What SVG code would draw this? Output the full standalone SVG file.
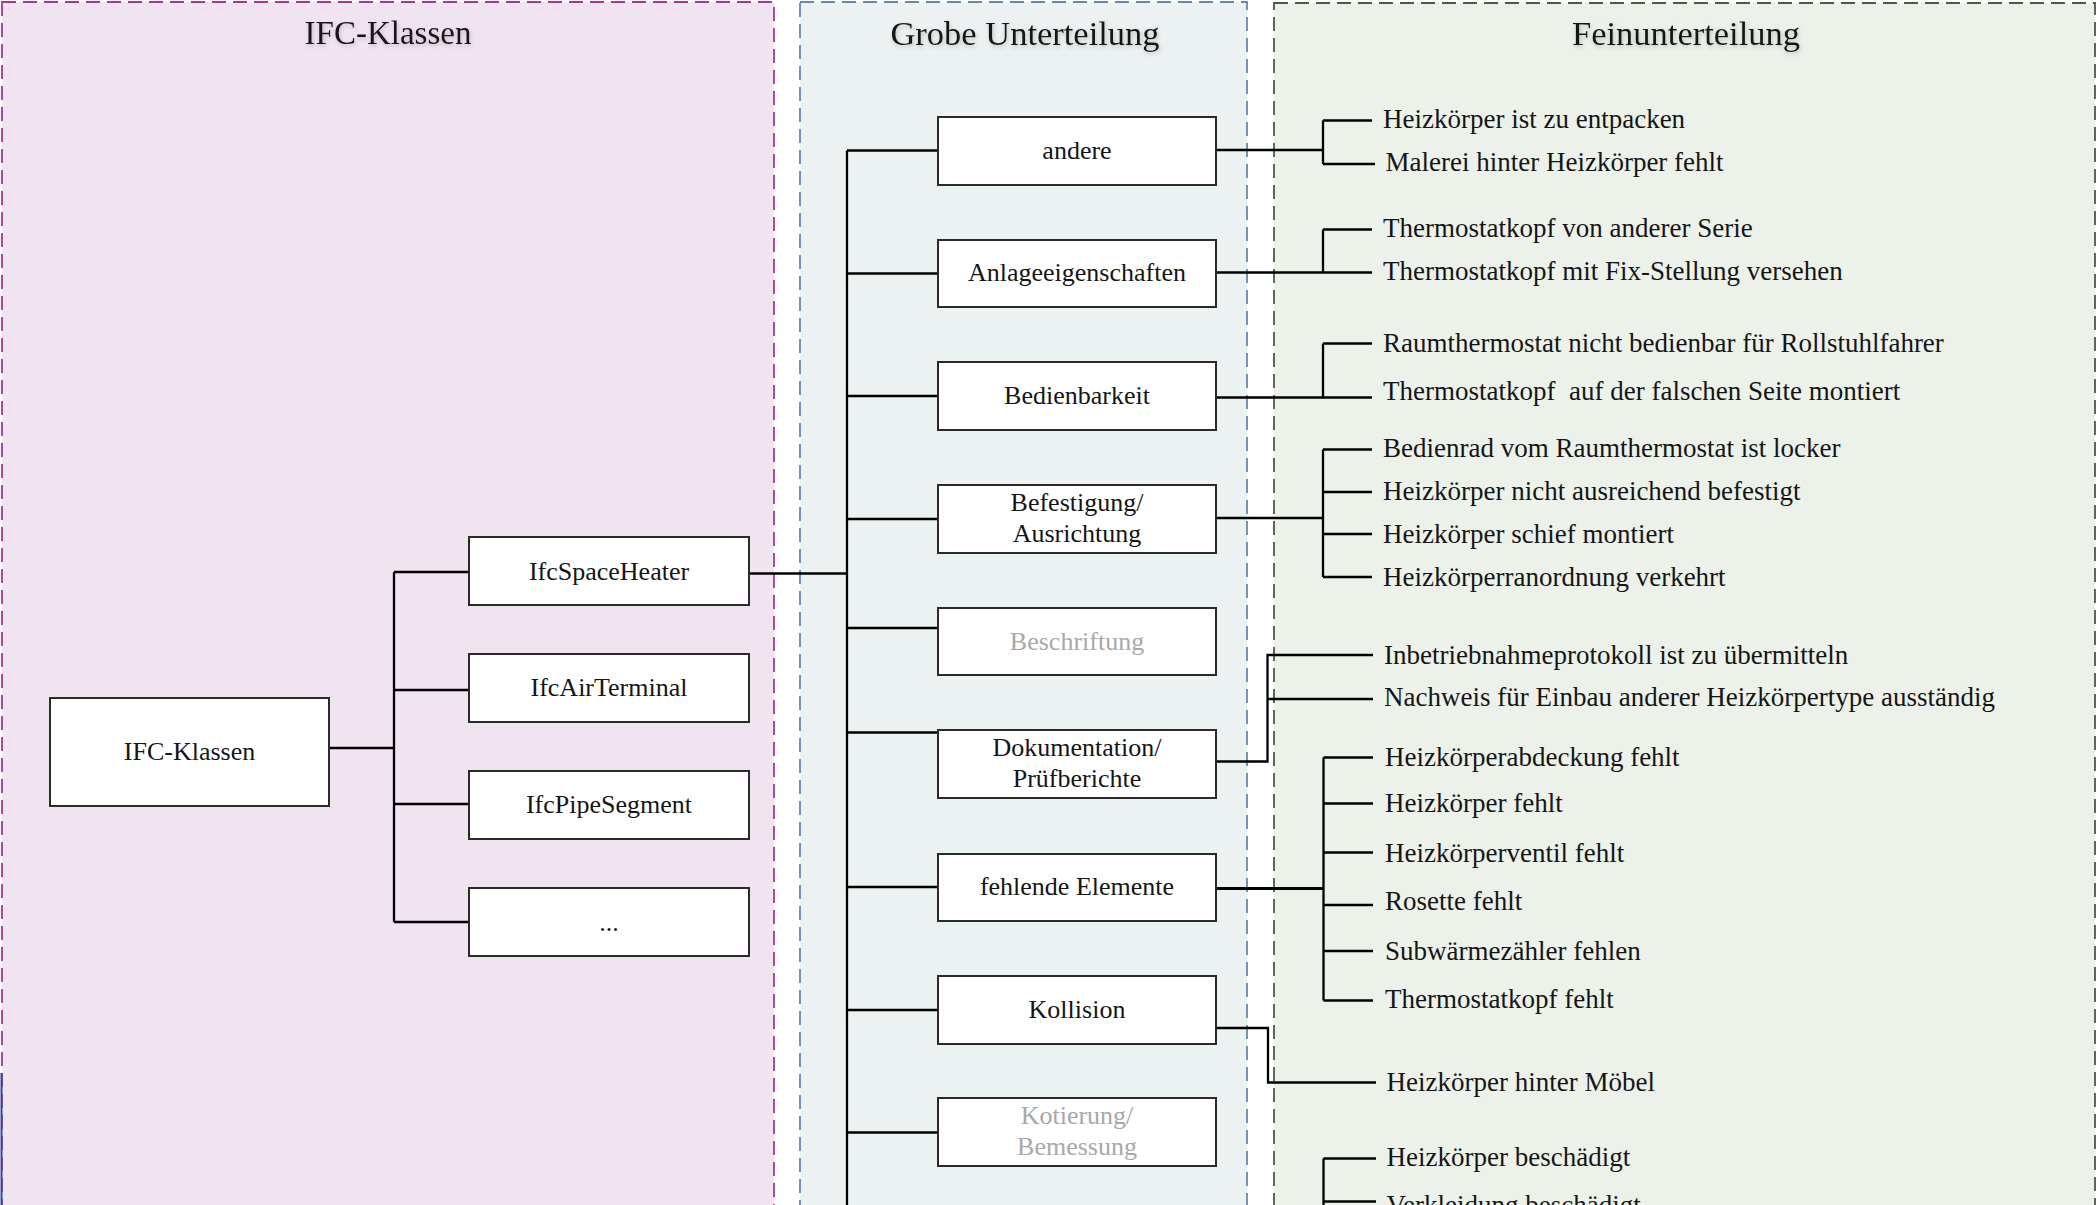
<svg xmlns="http://www.w3.org/2000/svg" width="2098" height="1205" viewBox="0 0 2098 1205">
  <defs>
    <filter id="shadow" x="-10%" y="-30%" width="120%" height="170%">
      <feDropShadow dx="1" dy="2" stdDeviation="2" flood-color="#7a7a7a" flood-opacity="0.45"/>
    </filter>
    <style>
      .title { font-family: "Liberation Serif", "DejaVu Serif", serif; font-size: 33px; fill: #151515; text-anchor: middle; }
      .title-l { font-size: 34.5px; }
      .box { fill: #ffffff; stroke: #2a2a2a; stroke-width: 2; }
      .lbl { font-family: "Liberation Serif", "DejaVu Serif", serif; font-size: 26px; fill: #151515; text-anchor: middle; }
      .dim { fill: #a8a8a8; }
      .item { font-family: "Liberation Serif", "DejaVu Serif", serif; font-size: 27px; fill: #151515; }
      .conn { fill: none; stroke: #000000; stroke-width: 2.3; }
      .pnl { stroke-width: 1.8; stroke-dasharray: 14 7; }
    </style>
  </defs>

  <rect width="2098" height="1205" fill="#ffffff"/>

  <!-- Panels -->
  <g id="panel-ifc">
    <rect class="pnl" x="2" y="2" width="772" height="1230" fill="#f1e4f1" stroke="#a8369a"/>
    <text class="title" x="388" y="44" filter="url(#shadow)">IFC-Klassen</text>
  </g>
  <g id="panel-grob">
    <rect class="pnl" x="800" y="2" width="447" height="1230" fill="#ecf1f1" stroke="#6688ad"/>
    <text class="title title-l" x="1025" y="45" filter="url(#shadow)">Grobe Unterteilung</text>
  </g>
  <g id="panel-fein">
    <rect class="pnl" x="1274" y="3" width="821" height="1230" fill="#ecf1ea" stroke="#4b5a44"/>
    <text class="title title-l" x="1686" y="45" filter="url(#shadow)">Feinunterteilung</text>
  </g>
  <line x1="1.5" y1="1073" x2="1.5" y2="1205" stroke="#2a4a9a" stroke-width="2"/>

  <!-- Connectors -->
  <g id="connectors">
    <!-- IFC tree -->
    <path class="conn" d="M329,748 H394 M394,572 V922 M394,572 H469 M394,690 H469 M394,804 H469 M394,922 H469"/>
    <!-- IfcSpaceHeater to coarse bus -->
    <path class="conn" d="M749,573.5 H847"/>
    <path class="conn" d="M847,150.5 V1205"/>
    <path class="conn" d="M847,150.5 H938 M847,273.5 H938 M847,396 H938 M847,519 H938 M847,628 H938 M847,732.5 H938 M847,887 H938 M847,1010 H938 M847,1132.5 H938"/>
    <!-- andere -->
    <path class="conn" d="M1216,150 H1323 M1323,120.5 V164 M1323,120.5 H1372 M1323,164 H1375"/>
    <!-- Anlageeigenschaften -->
    <path class="conn" d="M1216,272.5 H1372 M1323,229.5 V272.5 M1323,229.5 H1372"/>
    <!-- Bedienbarkeit -->
    <path class="conn" d="M1216,397.5 H1372 M1323,343.5 V397.5 M1323,343.5 H1372"/>
    <!-- Befestigung -->
    <path class="conn" d="M1216,518 H1323 M1323,449.5 V577 M1323,449.5 H1372 M1323,492 H1372 M1323,534 H1372 M1323,577 H1372"/>
    <!-- Dokumentation -->
    <path class="conn" d="M1216,761.5 H1267.5 V655 H1373 M1267.5,699 H1373"/>
    <!-- fehlende Elemente -->
    <path class="conn" d="M1216,888.5 H1323.5" style="stroke-width:3"/>
    <path class="conn" d="M1323.5,757.5 V1000.5 M1323.5,757.5 H1373 M1323.5,803.5 H1373 M1323.5,852.5 H1373 M1323.5,905 H1373 M1323.5,951 H1373 M1323.5,1000.5 H1373"/>
    <!-- Kollision -->
    <path class="conn" d="M1216,1028 H1268 V1082.5 H1376"/>
    <!-- bottom group -->
    <path class="conn" d="M1323.5,1158.5 V1205 M1323.5,1158.5 H1376 M1323.5,1201.5 H1376"/>
  </g>

  <!-- IFC class nodes -->
  <g id="node-ifc-klassen">
    <rect class="box" x="50" y="698" width="279" height="108"/>
    <text class="lbl" x="189.5" y="760">IFC-Klassen</text>
  </g>
  <g id="node-ifcspaceheater">
    <rect class="box" x="469" y="537" width="280" height="68"/>
    <text class="lbl" x="609" y="580">IfcSpaceHeater</text>
  </g>
  <g id="node-ifcairterminal">
    <rect class="box" x="469" y="654" width="280" height="68"/>
    <text class="lbl" x="609" y="696">IfcAirTerminal</text>
  </g>
  <g id="node-ifcpipesegment">
    <rect class="box" x="469" y="771" width="280" height="68"/>
    <text class="lbl" x="609" y="813">IfcPipeSegment</text>
  </g>
  <g id="node-more">
    <rect class="box" x="469" y="888" width="280" height="68"/>
    <text class="lbl" x="609" y="931">...</text>
  </g>

  <!-- Coarse categories -->
  <g id="node-andere">
    <rect class="box" x="938" y="117" width="278" height="68"/>
    <text class="lbl" x="1077" y="159">andere</text>
  </g>
  <g id="node-anlageeigenschaften">
    <rect class="box" x="938" y="240" width="278" height="67"/>
    <text class="lbl" x="1077" y="281">Anlageeigenschaften</text>
  </g>
  <g id="node-bedienbarkeit">
    <rect class="box" x="938" y="362" width="278" height="68"/>
    <text class="lbl" x="1077" y="404">Bedienbarkeit</text>
  </g>
  <g id="node-befestigung">
    <rect class="box" x="938" y="485" width="278" height="68"/>
    <text class="lbl" x="1077" y="511">Befestigung/</text>
    <text class="lbl" x="1077" y="542">Ausrichtung</text>
  </g>
  <g id="node-beschriftung">
    <rect class="box" x="938" y="608" width="278" height="67"/>
    <text class="lbl dim" x="1077" y="650">Beschriftung</text>
  </g>
  <g id="node-dokumentation">
    <rect class="box" x="938" y="730" width="278" height="68"/>
    <text class="lbl" x="1077" y="756">Dokumentation/</text>
    <text class="lbl" x="1077" y="787">Prüfberichte</text>
  </g>
  <g id="node-fehlende-elemente">
    <rect class="box" x="938" y="854" width="278" height="67"/>
    <text class="lbl" x="1077" y="895">fehlende Elemente</text>
  </g>
  <g id="node-kollision">
    <rect class="box" x="938" y="976" width="278" height="68"/>
    <text class="lbl" x="1077" y="1018">Kollision</text>
  </g>
  <g id="node-kotierung">
    <rect class="box" x="938" y="1098" width="278" height="68"/>
    <text class="lbl dim" x="1077" y="1124">Kotierung/</text>
    <text class="lbl dim" x="1077" y="1155">Bemessung</text>
  </g>

  <!-- Fine categories -->
  <g id="fine-andere">
    <text class="item" x="1383" y="128">Heizkörper ist zu entpacken</text>
    <text class="item" x="1385.5" y="171">Malerei hinter Heizkörper fehlt</text>
  </g>
  <g id="fine-anlage">
    <text class="item" x="1383" y="236.5">Thermostatkopf von anderer Serie</text>
    <text class="item" x="1383" y="279.5">Thermostatkopf mit Fix-Stellung versehen</text>
  </g>
  <g id="fine-bedien">
    <text class="item" x="1383" y="352">Raumthermostat nicht bedienbar für Rollstuhlfahrer</text>
    <text class="item" x="1383" y="400" xml:space="preserve">Thermostatkopf  auf der falschen Seite montiert</text>
  </g>
  <g id="fine-befestigung">
    <text class="item" x="1383" y="457">Bedienrad vom Raumthermostat ist locker</text>
    <text class="item" x="1383" y="499.5">Heizkörper nicht ausreichend befestigt</text>
    <text class="item" x="1383" y="542.5">Heizkörper schief montiert</text>
    <text class="item" x="1383" y="585.5">Heizkörperranordnung verkehrt</text>
  </g>
  <g id="fine-dokumentation">
    <text class="item" x="1384" y="663.5">Inbetriebnahmeprotokoll ist zu übermitteln</text>
    <text class="item" x="1384" y="706">Nachweis für Einbau anderer Heizkörpertype ausständig</text>
  </g>
  <g id="fine-fehlende">
    <text class="item" x="1385" y="766">Heizkörperabdeckung fehlt</text>
    <text class="item" x="1385" y="811.5">Heizkörper fehlt</text>
    <text class="item" x="1385" y="861.5">Heizkörperventil fehlt</text>
    <text class="item" x="1385" y="910">Rosette fehlt</text>
    <text class="item" x="1385" y="960">Subwärmezähler fehlen</text>
    <text class="item" x="1385" y="1008">Thermostatkopf fehlt</text>
  </g>
  <g id="fine-kollision">
    <text class="item" x="1386.5" y="1090.5">Heizkörper hinter Möbel</text>
  </g>
  <g id="fine-bottom">
    <text class="item" x="1386.5" y="1166">Heizkörper beschädigt</text>
    <text class="item" x="1386.5" y="1214">Verkleidung beschädigt</text>
  </g>
</svg>
